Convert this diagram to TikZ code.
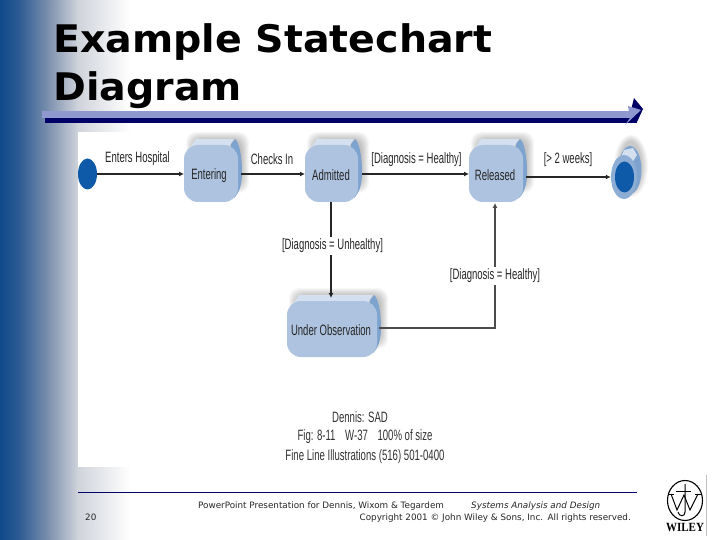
\documentclass[tikz,border=0pt]{standalone}
\usepackage{fontspec}
\setmainfont{Liberation Sans}
\newfontfamily\titlefont{DejaVu Sans}
\newfontfamily\serifbold{Liberation Serif}
\usetikzlibrary{arrows.meta,calc,shapes.geometric}
\definecolor{slideblue}{HTML}{0F4A8C}
\definecolor{stopa}{HTML}{2F5C93}
\definecolor{midblue}{HTML}{8093B0}
\definecolor{paleblue}{HTML}{CFD3DA}
\definecolor{facecol}{HTML}{AEC3DF}
\definecolor{topcol}{HTML}{D4E0EF}
\definecolor{sidecol}{HTML}{7FA3CF}
\definecolor{ballblue}{HTML}{0F5AA8}
\definecolor{navy}{HTML}{000066}
\definecolor{lilac}{HTML}{9098D0}
\tikzset{
  statebox/.style={fill=facecol,rounded corners=14pt,inner sep=0pt},
  statetext/.style={font=\fontsize{15}{15}\selectfont,xscale=.635,text=black!85},
  lbl/.style={font=\fontsize{15}{15}\selectfont,xscale=.635,text=black!85,inner sep=1pt},
  gaplbl/.style={lbl,fill=white,inner ysep=2pt,inner xsep=4pt},
  note/.style={font=\fontsize{15}{15}\selectfont,xscale=.64,text=black!80,inner sep=0pt},
  flow/.style={draw=black!85,line width=1.3pt,-{Latex[length=5pt,width=5pt]}},
  foot/.style={font=\titlefont\fontsize{8.8}{8.8}\selectfont,inner sep=0pt,text=black!85},
  logoline/.style={draw=black,line width=1pt},
}
% #1 left, #2 right, #3 top, #4 bottom of the front face: shadow, top and side faces
\newcommand{\stateextras}[4]{%
  \foreach \g in {8,7,6,5,4,3,2,1}{%
    \fill[black,opacity=.03,rounded corners=10pt]
      ({#1+10-\g},{#3-5-\g}) rectangle ({#2+3+\g},{#3+40+\g});}%
  \fill[sidecol] ({#2-7},{#3-1}) -- ({#2-3},{#3-6}) .. controls ({#2+1},{#3-3}) and ({#2+4},{#3+10}) .. ({#2+4},{#3+26})
     .. controls ({#2+4},{#4-18}) and ({#2+2},{#4-10}) .. ({#2-4},{#4-4}) -- cycle;
  \fill[topcol] ({#1+6},{#3+3}) -- ({#1+12},{#3-6}) -- ({#2-4},{#3-6}) -- ({#2-10},{#3+3}) -- cycle;
}
\begin{document}
\begin{tikzpicture}[x=1pt,y=-1pt]
\useasboundingbox (0,0) rectangle (720,540);
\fill[white] (0,0) rectangle (720,540);
% slide background
\shade[left color=slideblue,right color=stopa] (0,0) rectangle (20,540);
\shade[left color=stopa,right color=midblue] (19.5,0) rectangle (50,540);
\shade[left color=midblue,right color=paleblue] (49.5,0) rectangle (78,540);
\shade[left color=paleblue,right color=white] (77.5,0) rectangle (130,540);
% figure panel
\fill[white] (78,132) rectangle (645,467);
% title
\node[anchor=base west,font=\titlefont\bfseries\fontsize{38}{38}\selectfont,inner sep=0pt,xscale=1.04] (title1) at (53,53) {Example Statechart};
\node[anchor=base west,font=\titlefont\bfseries\fontsize{38}{38}\selectfont,inner sep=0pt,xscale=1.04] (title2) at (53,101) {Diagram};
% title rule
\fill[navy] (45,118) rectangle (637,123);
\fill[navy] (634,98) -- (643,109) -- (637,122) -- (628,122) -- cycle;
\fill[lilac] (42,111) rectangle (630,118);
\fill[lilac] (628,106) -- (641,110) -- (625,125) -- (630,118) -- cycle;
% initial state
\node[ellipse,fill=ballblue,minimum width=19pt,minimum height=31pt,inner sep=0pt] (start) at (87.5,174) {};
% states
\stateextras{184}{238}{145}{202}
\path[statebox] (184,145) rectangle (238,202);
\node[statetext] (entering) at (209,176) {Entering};
\coordinate (enteringW) at (184,174); \coordinate (enteringE) at (241,174);
\stateextras{305}{358}{145}{202}
\path[statebox] (305,145) rectangle (358,202);
\node[statetext] (admitted) at (331,175) {Admitted};
\coordinate (admittedW) at (305,174); \coordinate (admittedE) at (362,174); \coordinate (admittedS) at (331,202);
\stateextras{469}{523}{145}{202}
\path[statebox] (469,145) rectangle (523,202);
\node[statetext] (released) at (495,175) {Released};
\coordinate (releasedW) at (469,174); \coordinate (releasedE) at (526,177); \coordinate (releasedS) at (495,203);
\stateextras{287}{377}{301}{357}
\path[statebox] (287,301) rectangle (377,357);
\node[statetext] (observation) at (331,330) {Under Observation};
\coordinate (obsN) at (331,298); \coordinate (obsE) at (379,328);
% final state
\foreach \g in {7,6,5,4,3,2,1}{\fill[black,opacity=.03] (631,166) ellipse ({10+\g} and {24+\g});}
\fill[sidecol] (630,170) ellipse (11.5 and 24);
\fill[topcol] (619,162) -- (624,150) -- (633,148) -- (637,155) -- (630,166) -- cycle;
\node[ellipse,fill=facecol!30!sidecol,minimum width=26pt,minimum height=44pt,inner sep=0pt] (finalouter) at (624,177) {};
\node[ellipse,fill=ballblue,minimum width=19pt,minimum height=31pt,inner sep=0pt] (final) at (624.5,177) {};
% connectors
\draw[flow] (start) -- (enteringW);
\draw[flow] (enteringE) -- (admittedW);
\draw[flow] (admittedE) -- (releasedW);
\draw[flow] (releasedE) -- (releasedE -| finalouter.west);
\draw[flow] (admittedS) -- (obsN);
\draw[flow,draw=black!70] (obsE) -| (releasedS);
% labels
\node[lbl] (l1) at (137.5,159) {Enters Hospital};
\node[lbl] (l2) at (272,159) {Checks In};
\node[lbl] (l3) at (416.5,160) {[Diagnosis = Healthy]};
\node[lbl] (l4) at (568,160) {[> 2 weeks]};
\node[gaplbl] (l5) at (332.5,246) {[Diagnosis = Unhealthy]};
\node[gaplbl] (l6) at (495,276) {[Diagnosis = Healthy]};
% figure credit
\node[note] (c1) at (360,417) {Dennis: SAD};
\node[note] (c2) at (365,437) {Fig: 8-11\quad W-37\quad 100\% of size};
\node[note] (c3) at (365,457) {Fine Line Illustrations (516) 501-0400};
% footer
\draw[navy,line width=.8pt] (78,492) -- (637,492);
\node[foot,anchor=west] (pg) at (85,517) {20};
\node[foot,anchor=west] (f1) at (198,506.5) {PowerPoint Presentation for Dennis, Wixom \& Tegardem};
\node[foot,anchor=west] (f2) at (471,506.5) {\itshape Systems Analysis and Design};
\node[foot,anchor=east] (f3) at (631,518) {Copyright 2001 © John Wiley \& Sons, Inc.\enspace All rights reserved.};
% logo
\draw[black!25,line width=.8pt] (706,475) -- (706,536);
\draw[line width=1.1pt] (685,500.5) ellipse (17.5 and 20);
\draw[logoline] (676,491) -- (691,491);
\draw[logoline] (685,484) -- (685,512) .. controls (685,517) and (679,517) .. (678,512);
\draw[logoline] (671,494) -- (677,510) -- (684,495) -- (690,510) -- (698,494);
\draw[logoline,line width=.6pt] (668,494) -- (674,494) (695,494) -- (701,494);
\node[font=\serifbold\bfseries\fontsize{12.5}{12.5}\selectfont,inner sep=0pt,xscale=.88] (wiley) at (685,527.5) {WILEY};
\end{tikzpicture}
\end{document}
